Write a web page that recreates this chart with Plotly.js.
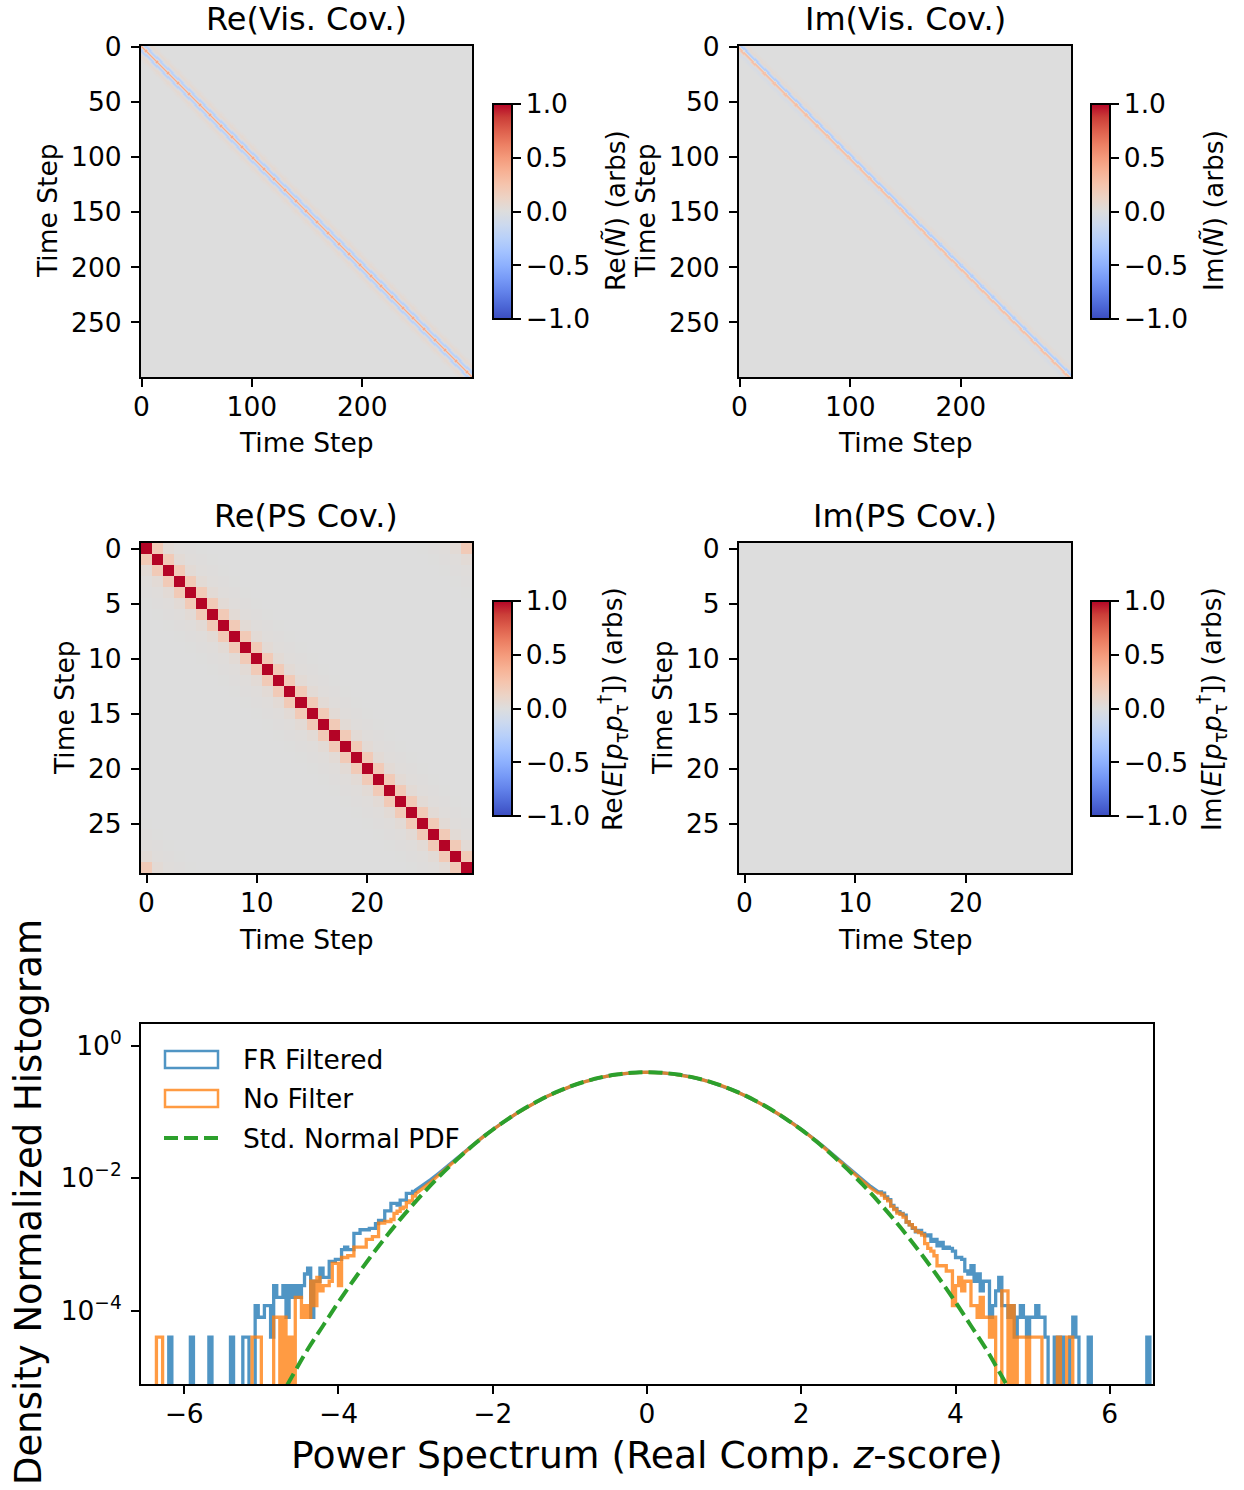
<!DOCTYPE html>
<html><head><meta charset="utf-8">
<script src="https://cdn.plot.ly/plotly-3.0.1.min.js"></script>
<style>html,body{margin:0;padding:0;background:#fff}</style>
</head><body><div id="chart" style="width:1244px;height:1490px"></div>
<script>
// ---------------- DATA ----------------
// Visibility covariance: value vs. offset from the diagonal (Toeplitz profile)
const visN = 300;
const visReProfile = [0.42, 0.22, -0.08, -0.22, -0.24, -0.16, -0.06, 0.02, 0.05, 0.06, 0.05, 0.03, 0.02, 0.01];
const visImProfile = [0.0, -0.24, -0.28, -0.2, -0.08, 0.02, 0.05, 0.05, 0.03, 0.02, 0.01]; // upper triangle, antisymmetric
// Power-spectrum covariance (circulant profile vs. offset)
const psN = 30;
const psReProfile = [1.0, 0.2, 0.04, 0.015, 0.008, 0.004];
const psImProfile = [0.0];

const visTicks = [0, 50, 100, 150, 200, 250];
const visXTicks = [0, 100, 200];
const psTicks = [0, 5, 10, 15, 20, 25];
const psXTicks = [0, 10, 20];
const cbTicks = [-1, -0.5, 0, 0.5, 1];
const cbTickText = ['\u22121.0', '\u22120.5', '0.0', '0.5', '1.0'];

// Histograms (z-score of real component of PS)
const binWidth = 0.04;
const densityPerCount = 3.96e-5;
const leftTailStart = -6.40;   // 85 bins up to -3.00
const rightTailStart = 3.00;   // bins up to 6.60
const frLeftCounts = [0,0,0,0,0,1,0,0,0,0, 0,0,1,0,0,0,0,0,1,0, 0,0,0,0,0,1,0,0,0,1, 1,0,0,3,2,2,3,3,1,6, 4,4,6,2,6,4,6,4,6,9, 11,2,7,7,11,8,8,14,14,15, 15,21,23,21,21,37,37,42,42,42, 44,44,52,58,58,81,81,105,105,99, 118,118,149,149,160];
const nfLeftCounts = [0,1,1,0,0,0,0,0,0,0, 0,0,0,0,0,0,0,0,0,0, 0,0,0,0,0,0,0,0,0,0, 0,0,1,1,1,0,0,0,0,2, 2,0,2,0,1,0,4,4,2,3, 2,7,3,8,5,6,6,7,13,13, 6,16,16,17,17,23,23,23,23,30, 30,33,33,53,53,56,56,60,74,80, 88,92,108,115,135];
const frRightCounts = [157,150,132,120,98,88,79,74,70,55, 50,44,39,41,37,34,35,28,30,24, 27,22,23,22,20,16,16,15,10,9, 12,7,9,5,7,7,2,3,5,8, 3,3,2,3,1,2,3,2,1,2, 2,3,2,2,1,0,0,1,0,1, 0,0,1,2,1,0,0,0,1,0, 0,0,0,0,0,0,0,0,0,0, 0,0,0,0,0,0,0,1,0];
const nfRightCounts = [150,140,125,115,95,85,75,72,65,55, 50,45,40,38,35,26,22,20,17,12, 12,12,10,10,3,6,8,5,7,7, 3,3,2,4,2,2,1,2,0,0, 5,5,0,3,0,1,1,1,0,1, 1,1,1,0,0,0,0,0,1,0, 0,1,1,0,0,0,0,0,0,0];
// central part, x = -3.0 ... 3.0 in steps of 0.1
const coreStart = -3.0, coreStep = 0.1;
const frCore = [0.0066,0.0079,0.0096,0.0119,0.0149,0.0186,0.0233,0.0291,0.0363,0.0447,
  0.0544,0.0659,0.0792,0.0940,0.1107,0.1292,0.1494,0.1711,0.1939,0.2176,
  0.2417,0.2658,0.2894,0.3120,0.3330,0.3519,0.3681,0.3812,0.3909,0.3968,
  0.3987,
  0.3969,0.3908,0.3813,0.3680,0.3520,0.3331,0.3121,0.2895,0.2659,0.2418,
  0.2177,0.1940,0.1712,0.1495,0.1293,0.1108,0.0941,0.0793,0.0660,0.0546,
  0.0449,0.0365,0.0293,0.0234,0.0186,0.0147,0.0116,0.0092,0.0075,0.0062];
const nfCore = [0.0058,0.0071,0.0088,0.0112,0.0142,0.0180,0.0228,0.0287,0.0359,0.0444,
  0.0542,0.0658,0.0791,0.0940,0.1107,0.1292,0.1494,0.1711,0.1939,0.2176,
  0.2417,0.2658,0.2894,0.3120,0.3330,0.3519,0.3681,0.3812,0.3909,0.3968,
  0.3988,
  0.3969,0.3908,0.3813,0.3680,0.3520,0.3331,0.3121,0.2895,0.2659,0.2418,
  0.2177,0.1940,0.1712,0.1495,0.1293,0.1108,0.0941,0.0793,0.0660,0.0543,
  0.0445,0.0360,0.0289,0.0229,0.0181,0.0143,0.0112,0.0088,0.0071,0.0059];
// Std. normal PDF sampled at x = -4.8 ... 4.8 in steps of 0.2
const pdfStart = -4.8, pdfStep = 0.2;
const pdfY = [3.96e-6,1.014e-5,2.58e-5,5.89e-5,1.338e-4,2.919e-4,6.119e-4,1.232e-3,2.384e-3,4.432e-3,
  7.915e-3,1.358e-2,2.239e-2,3.547e-2,5.399e-2,7.895e-2,0.1109,0.1497,0.1942,0.2420,
  0.2897,0.3332,0.3683,0.3910,0.3989,0.3910,0.3683,0.3332,0.2897,0.2420,
  0.1942,0.1497,0.1109,7.895e-2,5.399e-2,3.547e-2,2.239e-2,1.358e-2,7.915e-3,4.432e-3,
  2.384e-3,1.232e-3,6.119e-4,2.919e-4,1.338e-4,5.89e-5,2.58e-5,1.014e-5,3.96e-6];
const histXTicks = [-6, -4, -2, 0, 2, 4, 6];
const histYTicks = [1e-4, 1e-2, 1];
const histYTickText = ['10<sup>\u22124</sup>', '10<sup>\u22122</sup>', '10<sup>0</sup>'];

// ---------------- BUILD ----------------
const W = 1244, H = 1490;
const FONT = 'DejaVu Sans';
const TICK = 26.5, LABEL = 26.5, TITLE = 32, BIG = 37, BIGX = 37.7;
const px = v => v / W;
const py = v => 1 - v / H;

function buildMatrix(n, profile, circular, anti) {
  const z = [];
  for (let i = 0; i < n; i++) {
    const row = [];
    for (let j = 0; j < n; j++) {
      let d = j - i;
      let a = Math.abs(d);
      if (circular) a = Math.min(a, n - a);
      let v = a < profile.length ? profile[a] : 0;
      if (anti && d < 0) v = -v;
      row.push(v);
    }
    z.push(row);
  }
  return z;
}

const coolwarm = [
 [0.0,'rgb(59,76,192)'],[0.0625,'rgb(77,104,215)'],[0.125,'rgb(98,130,234)'],[0.1875,'rgb(119,154,247)'],
 [0.25,'rgb(141,176,254)'],[0.3125,'rgb(163,194,255)'],[0.375,'rgb(184,208,249)'],[0.4375,'rgb(204,217,238)'],
 [0.5,'rgb(221,221,221)'],[0.5625,'rgb(236,211,197)'],[0.625,'rgb(245,196,173)'],[0.6875,'rgb(247,177,148)'],
 [0.75,'rgb(244,154,123)'],[0.8125,'rgb(236,127,99)'],[0.875,'rgb(222,96,77)'],[0.9375,'rgb(203,62,56)'],
 [1.0,'rgb(180,4,38)']];

function cb(xPix, yTop, yBot) {
  return {x: px(xPix), xanchor: 'left', xpad: 0, ypad: 0,
    y: py((yTop + yBot) / 2), yanchor: 'middle',
    len: yBot - yTop, lenmode: 'pixels', thickness: 19, thicknessmode: 'pixels',
    outlinewidth: 2, outlinecolor: '#000', ticks: 'outside', ticklen: 8, tickwidth: 2, tickcolor: '#000',
    tickvals: cbTicks, ticktext: cbTickText, tickfont: {family: FONT, size: TICK, color: '#000'}};
}

function hm(z, ax, cbar) {
  return {type: 'heatmap', z: z, zmin: -1, zmax: 1, colorscale: coolwarm,
    xaxis: 'x' + ax, yaxis: 'y' + ax, colorbar: cbar, hoverinfo: 'skip', zsmooth: false};
}

const traces = [
  hm(buildMatrix(visN, visReProfile, false, false), '', cb(493, 104, 319)),
  hm(buildMatrix(visN, visImProfile, false, true), '2', cb(1091, 104, 319)),
  hm(buildMatrix(psN, psReProfile, true, false), '3', cb(493, 601, 816)),
  hm(buildMatrix(psN, psImProfile, true, true), '4', cb(1091, 601, 816)),
];

function histPath(leftCounts, core, rightCounts) {
  const xs = [], ys = [];
  const floorVal = 1e-8;
  leftCounts.forEach((c, k) => {
    const x0 = leftTailStart + k * binWidth;
    const y = c > 0 ? c * densityPerCount : floorVal;
    xs.push(x0, x0 + binWidth); ys.push(y, y);
  });
  core.forEach((v, i) => { xs.push(coreStart + i * coreStep); ys.push(v); });
  rightCounts.forEach((c, k) => {
    const x0 = rightTailStart + k * binWidth;
    const y = c > 0 ? c * densityPerCount : floorVal;
    xs.push(x0, x0 + binWidth); ys.push(y, y);
  });
  return {xs, ys};
}
const fr = histPath(frLeftCounts, frCore, frRightCounts);
const nf = histPath(nfLeftCounts, nfCore, nfRightCounts);
const BLUE = 'rgba(31,119,180,0.78)', ORANGE = 'rgba(255,127,14,0.78)', GREEN = '#2ca02c';
traces.push({type: 'scatter', mode: 'lines', x: fr.xs, y: fr.ys, xaxis: 'x5', yaxis: 'y5',
  line: {color: BLUE, width: 3.3}, name: 'FR Filtered', showlegend: false, hoverinfo: 'skip'});
traces.push({type: 'scatter', mode: 'lines', x: nf.xs, y: nf.ys, xaxis: 'x5', yaxis: 'y5',
  line: {color: ORANGE, width: 3.3}, name: 'No Filter', showlegend: false, hoverinfo: 'skip'});
traces.push({type: 'scatter', mode: 'lines', x: pdfY.map((_, i) => pdfStart + i * pdfStep), y: pdfY,
  xaxis: 'x5', yaxis: 'y5', line: {color: GREEN, width: 4, dash: '14px,6px', shape: 'spline'},
  name: 'Std. Normal PDF', showlegend: false, hoverinfo: 'skip'});

function axis(d0, d1, horizontal, range, tickvals, anchor, extra) {
  const dom = horizontal ? [px(d0), px(d1)] : [py(d1), py(d0)];
  return Object.assign({domain: dom, range: range, tickvals: tickvals, anchor: anchor,
    ticks: 'outside', ticklen: 8, tickwidth: 2, tickcolor: '#000',
    showline: true, linewidth: 2, linecolor: '#000', mirror: true,
    showgrid: false, zeroline: false, fixedrange: true,
    ticklabelstandoff: horizontal ? -3 : 4,
    tickfont: {family: FONT, size: TICK, color: '#000'}}, extra || {});
}
const vr = [-0.5, visN - 0.5], vrr = [visN - 0.5, -0.5];
const pr = [-0.5, psN - 0.5], prr = [psN - 0.5, -0.5];

const layout = {
  width: W, height: H, margin: {l: 0, r: 0, t: 0, b: 0},
  paper_bgcolor: '#fff', plot_bgcolor: '#fff', showlegend: false,
  font: {family: FONT, color: '#000'},
  xaxis: axis(141, 472, true, vr, visXTicks, 'y'),
  yaxis: axis(46, 377, false, vrr, visTicks, 'x'),
  xaxis2: axis(739, 1071, true, vr, visXTicks, 'y2'),
  yaxis2: axis(46, 377, false, vrr, visTicks, 'x2'),
  xaxis3: axis(141, 472, true, pr, psXTicks, 'y3'),
  yaxis3: axis(543, 873, false, prr, psTicks, 'x3'),
  xaxis4: axis(739, 1071, true, pr, psXTicks, 'y4'),
  yaxis4: axis(543, 873, false, prr, psTicks, 'x4'),
  xaxis5: axis(141, 1153, true, [-6.56, 6.56], histXTicks, 'y5'),
  yaxis5: axis(1024, 1384, false, [-5.11, 0.33], histYTicks, 'x5', {type: 'log', ticktext: histYTickText}),
  annotations: [], shapes: []
};

function ann(text, x, y, size, angle, xanchor) {
  layout.annotations.push({text: text, x: px(x), y: py(y), xref: 'paper', yref: 'paper',
    showarrow: false, textangle: angle || 0, xanchor: xanchor || 'center', yanchor: 'middle',
    font: {family: FONT, size: size, color: '#000'}});
}
ann('Re(Vis. Cov.)', 306, 19, TITLE);
ann('Im(Vis. Cov.)', 905, 19, TITLE);
ann('Re(PS Cov.)', 306, 516, TITLE);
ann('Im(PS Cov.)', 905, 516, TITLE);
ann('Time Step', 306, 442, LABEL);
ann('Time Step', 905, 442, LABEL);
ann('Time Step', 306, 939, LABEL);
ann('Time Step', 905, 939, LABEL);
ann('Time Step', 47, 211, LABEL, -90);
ann('Time Step', 645, 211, LABEL, -90);
ann('Time Step', 64, 708, LABEL, -90);
ann('Time Step', 662, 708, LABEL, -90);
ann('Re(<i>Ñ</i>) (arbs)', 615, 211, LABEL, -90);
ann('Im(<i>Ñ</i>) (arbs)', 1213, 211, LABEL, -90);
ann('Re(<i>E</i>[<i>p</i><sub>τ</sub><i>p</i><sub>τ</sub><sup>†</sup>]) (arbs)', 613, 709, LABEL, -90);
ann('Im(<i>E</i>[<i>p</i><sub>τ</sub><i>p</i><sub>τ</sub><sup>†</sup>]) (arbs)', 1212, 709, LABEL, -90);
ann('Power Spectrum (Real Comp. <i>z</i>-score)', 647, 1455, BIGX);
ann('Density Normalized Histogram', 28, 1202, BIG, -90);

// legend
ann('FR Filtered', 241, 1059, LABEL, 0, 'left');
ann('No Filter', 241, 1098, LABEL, 0, 'left');
ann('Std. Normal PDF', 241, 1138, LABEL, 0, 'left');
layout.shapes.push({type: 'rect', xref: 'paper', yref: 'paper', x0: px(165), x1: px(218), y0: py(1051), y1: py(1068),
  line: {color: BLUE, width: 2.5}, fillcolor: 'rgba(0,0,0,0)'});
layout.shapes.push({type: 'rect', xref: 'paper', yref: 'paper', x0: px(165), x1: px(218), y0: py(1090), y1: py(1107),
  line: {color: ORANGE, width: 2.5}, fillcolor: 'rgba(0,0,0,0)'});
layout.shapes.push({type: 'line', xref: 'paper', yref: 'paper', x0: px(164), x1: px(219), y0: py(1138), y1: py(1138),
  line: {color: GREEN, width: 4, dash: '14px,6px'}});

Plotly.newPlot('chart', traces, layout, {staticPlot: true, displayModeBar: false});
</script></body></html>
